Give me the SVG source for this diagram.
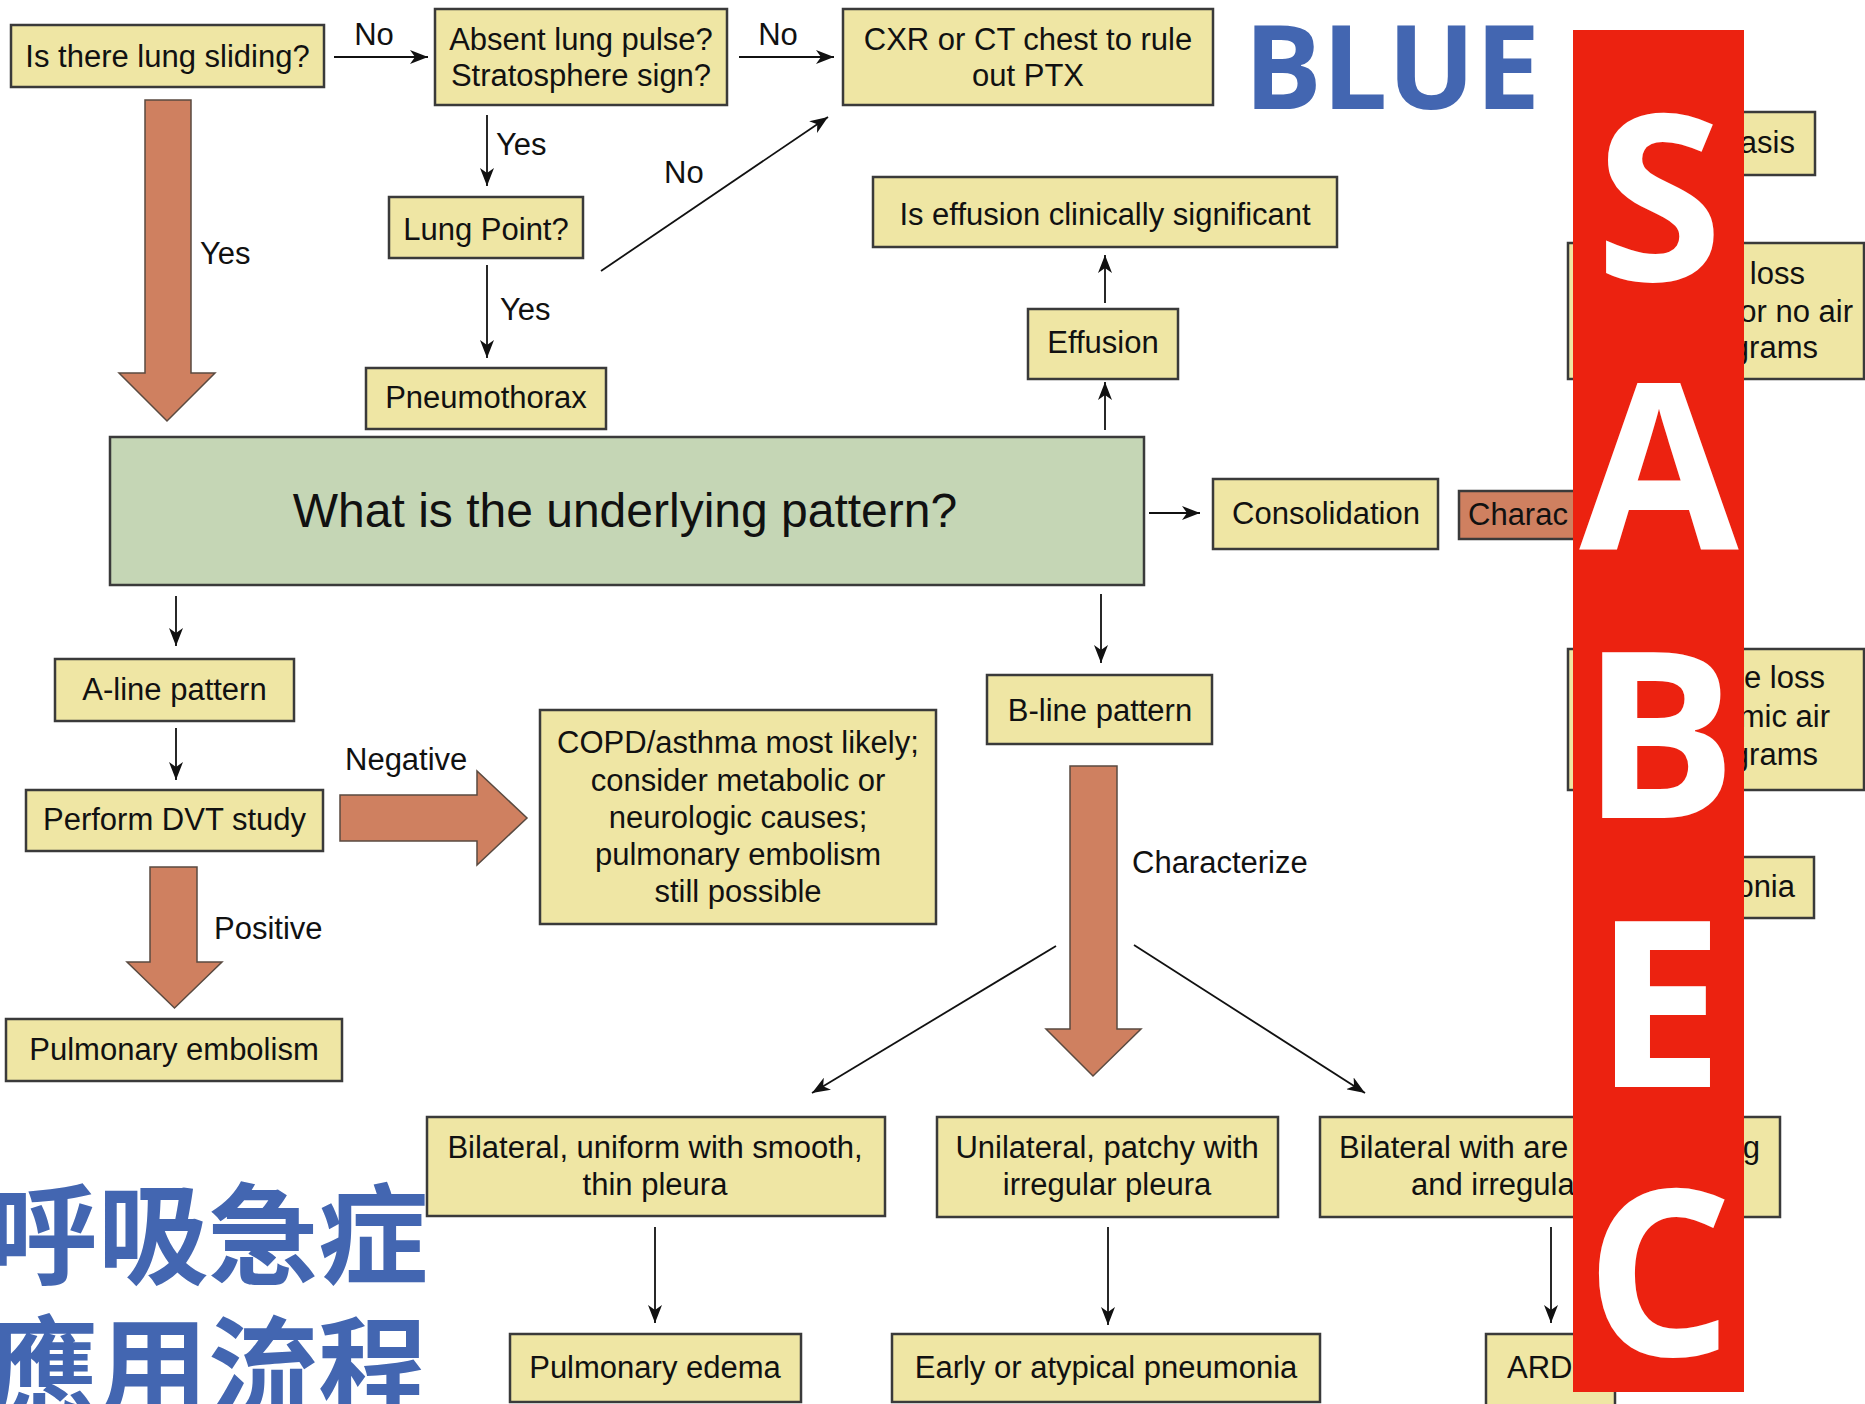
<svg xmlns="http://www.w3.org/2000/svg" width="1865" height="1404" viewBox="0 0 1865 1404">
<defs>
<marker id="ah" markerUnits="userSpaceOnUse" markerWidth="18" markerHeight="14" refX="18" refY="7" orient="auto">
<path d="M0,0 L18,7 L0,14 L5,7 z" fill="#111"/>
</marker>
<style>
.box{fill:#efe6a4;stroke:#3a3a3a;stroke-width:2.5}
.green{fill:#c5d6b5;stroke:#3a3a3a;stroke-width:2.5}
.brown{fill:#cf8060;stroke:#3a3a3a;stroke-width:2.5}
.fat{fill:#cf8060;stroke:#5a4a40;stroke-width:1.5}
.t{font-family:"Liberation Sans",Arial,sans-serif;font-size:31px;fill:#111}
.c{text-anchor:middle}
.e{text-anchor:end}
.big{font-size:48px}
.ln{stroke:#111;stroke-width:1.8;fill:none;marker-end:url(#ah)}
.letter{font-family:"Open Sans","Noto Sans",sans-serif;font-weight:700;font-size:231px;fill:#fff;text-anchor:middle}
.blue{fill:#4366b1;font-weight:700}
.cjk{font-family:"Noto Sans CJK TC","Noto Sans CJK SC",sans-serif;font-size:110px}
</style>
</defs>
<rect width="1865" height="1404" fill="#fff"/>

<g id="connectors">
<line class="ln" x1="334" y1="57" x2="428" y2="57"/>
<line class="ln" x1="739" y1="57" x2="834" y2="57"/>
<line class="ln" x1="487" y1="115" x2="487" y2="186"/>
<line class="ln" x1="487" y1="265" x2="487" y2="358"/>
<line class="ln" x1="601" y1="271" x2="828" y2="117"/>
<line class="ln" x1="1105" y1="430" x2="1105" y2="382"/>
<line class="ln" x1="1105" y1="303" x2="1105" y2="255"/>
<line class="ln" x1="1149" y1="513" x2="1200" y2="513"/>
<line class="ln" x1="176" y1="596" x2="176" y2="646"/>
<line class="ln" x1="176" y1="728" x2="176" y2="780"/>
<line class="ln" x1="1101" y1="594" x2="1101" y2="663"/>
<line class="ln" x1="1056" y1="946" x2="812" y2="1093"/>
<line class="ln" x1="1134" y1="945" x2="1365" y2="1093"/>
<line class="ln" x1="655" y1="1227" x2="655" y2="1323"/>
<line class="ln" x1="1108" y1="1227" x2="1108" y2="1325"/>
<line class="ln" x1="1551" y1="1227" x2="1551" y2="1323"/>
<path class="fat" d="M145,100 L191,100 L191,373 L215,373 L167,421 L119,373 L145,373 Z"/>
<path class="fat" d="M340,795 L477,795 L477,771 L527,818 L477,865 L477,841 L340,841 Z"/>
<path class="fat" d="M150,867 L197,867 L197,962 L222,962 L174.5,1008 L127,962 L150,962 Z"/>
<path class="fat" d="M1070,766 L1117,766 L1117,1029 L1141,1029 L1093,1076 L1046,1029 L1070,1029 Z"/>
<text class="t c" x="374" y="45">No</text>
<text class="t c" x="778" y="45">No</text>
<text class="t" x="496" y="155">Yes</text>
<text class="t" x="500" y="320">Yes</text>
<text class="t" x="664" y="183">No</text>
<text class="t" x="200" y="264">Yes</text>
<text class="t" x="345" y="770">Negative</text>
<text class="t" x="214" y="939">Positive</text>
<text class="t" x="1132" y="873">Characterize</text>
</g>

<g id="n-sliding"><rect class="box" x="11" y="25" width="313" height="62"/><text class="t c" x="167.5" y="67">Is there lung sliding?</text></g>
<g id="n-pulse"><rect class="box" x="435" y="9" width="292" height="96"/><text class="t c" x="581" y="50">Absent lung pulse?</text><text class="t c" x="581" y="86">Stratosphere sign?</text></g>
<g id="n-cxr"><rect class="box" x="843" y="9" width="370" height="96"/><text class="t c" x="1028" y="50">CXR or CT chest to rule</text><text class="t c" x="1028" y="86">out PTX</text></g>
<g id="n-lungpoint"><rect class="box" x="389" y="197" width="194" height="61"/><text class="t c" x="486" y="240">Lung Point?</text></g>
<g id="n-ptx"><rect class="box" x="366" y="368" width="240" height="61"/><text class="t c" x="486" y="408">Pneumothorax</text></g>
<g id="n-significant"><rect class="box" x="873" y="177" width="464" height="70"/><text class="t c" x="1105" y="225">Is effusion clinically significant</text></g>
<g id="n-effusion"><rect class="box" x="1028" y="309" width="150" height="70"/><text class="t c" x="1103" y="353">Effusion</text></g>
<g id="n-pattern"><rect class="green" x="110" y="437" width="1034" height="148"/><text class="t c big" x="625" y="527">What is the underlying pattern?</text></g>
<g id="n-consolidation"><rect class="box" x="1213" y="479" width="225" height="70"/><text class="t c" x="1326" y="524">Consolidation</text></g>
<g id="n-charac"><rect class="brown" x="1459" y="491" width="140" height="48"/><text class="t" x="1468" y="525">Charac</text></g>
<g id="n-aline"><rect class="box" x="55" y="659" width="239" height="62"/><text class="t c" x="174.5" y="700">A-line pattern</text></g>
<g id="n-dvt"><rect class="box" x="26" y="790" width="297" height="61"/><text class="t c" x="174.5" y="830">Perform DVT study</text></g>
<g id="n-copd"><rect class="box" x="540" y="710" width="396" height="214"/>
<text class="t c" x="738" y="753">COPD/asthma most likely;</text>
<text class="t c" x="738" y="791">consider metabolic or</text>
<text class="t c" x="738" y="828">neurologic causes;</text>
<text class="t c" x="738" y="865">pulmonary embolism</text>
<text class="t c" x="738" y="902">still possible</text></g>
<g id="n-pe"><rect class="box" x="6" y="1019" width="336" height="62"/><text class="t c" x="174" y="1060">Pulmonary embolism</text></g>
<g id="n-bline"><rect class="box" x="987" y="675" width="225" height="69"/><text class="t c" x="1100" y="721">B-line pattern</text></g>
<g id="n-bilateral"><rect class="box" x="427" y="1117" width="458" height="99"/><text class="t c" x="655" y="1158">Bilateral, uniform with smooth,</text><text class="t c" x="655" y="1195">thin pleura</text></g>
<g id="n-unilateral"><rect class="box" x="937" y="1117" width="341" height="100"/><text class="t c" x="1107" y="1158">Unilateral, patchy with</text><text class="t c" x="1107" y="1195">irregular pleura</text></g>
<g id="n-bilateral2"><rect class="box" x="1320" y="1117" width="460" height="100"/><text class="t" x="1339" y="1158">Bilateral with are</text><text class="t e" x="1760" y="1158">g</text><text class="t" x="1411" y="1195">and irregula</text></g>
<g id="n-edema"><rect class="box" x="510" y="1334" width="291" height="68"/><text class="t c" x="655" y="1378">Pulmonary edema</text></g>
<g id="n-pneumonia"><rect class="box" x="892" y="1334" width="428" height="68"/><text class="t c" x="1106" y="1378">Early or atypical pneumonia</text></g>
<g id="n-ard"><rect class="box" x="1486" y="1334" width="129" height="72"/><text class="t" x="1507" y="1378">ARD</text></g>
<g id="n-r1"><rect class="box" x="1600" y="112" width="215" height="63"/><text class="t e" x="1795" y="153">asis</text></g>
<g id="n-r2"><rect class="box" x="1568" y="243" width="296" height="136"/><text class="t e" x="1805" y="284">loss</text><text class="t e" x="1853" y="322">or no air</text><text class="t e" x="1818" y="358">grams</text></g>
<g id="n-r3"><rect class="box" x="1568" y="649" width="296" height="141"/><text class="t e" x="1825" y="688">e loss</text><text class="t e" x="1830" y="727">mic air</text><text class="t e" x="1818" y="765">grams</text></g>
<g id="n-r4"><rect class="box" x="1600" y="857" width="214" height="61"/><text class="t e" x="1795" y="897">onia</text></g>

<g id="title-blue"><text x="1244" y="109" font-family="'Open Sans','Noto Sans',sans-serif" font-size="116" class="blue">BLUE</text></g>
<g id="title-cjk">
<text x="-12" y="1276" class="cjk blue">呼吸急症</text>
<text x="-12" y="1409" class="cjk blue">應用流程</text>
</g>
<g id="sabec">
<rect x="1573" y="30" width="171" height="1362" fill="#ec2210"/>
<text class="letter" x="1659" y="281">S</text>
<text class="letter" x="1659" y="549">A</text>
<text class="letter" x="1659" y="818">B</text>
<text class="letter" x="1659" y="1087">E</text>
<text class="letter" x="1659" y="1356">C</text>
</g>
</svg>
